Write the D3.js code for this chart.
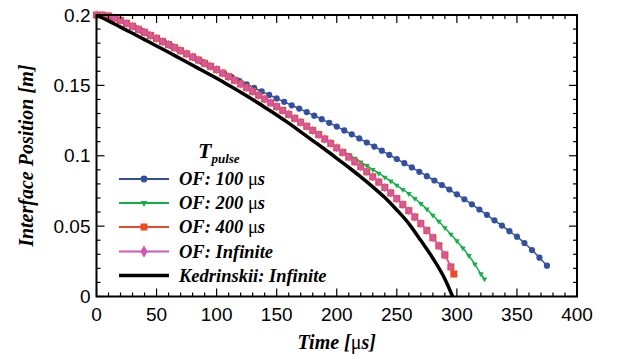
<!DOCTYPE html>
<html>
<head>
<meta charset="utf-8">
<script src="https://cdn.jsdelivr.net/npm/d3@7"></script>
<style>
  body { margin: 0; background: #fff; }
  .tick-label { font-family: "Liberation Sans", Arial, sans-serif; font-size: 19px; fill: #000; }
</style>
</head>
<body>
<div id="chart"></div>
<script>
// x ticks / y ticks
const xTicks = [0, 50, 100, 150, 200, 250, 300, 350, 400]
const yTicks = [0, 0.05, 0.1, 0.15, 0.2]
const yTickLabels = ["0", "0.05", "0.1", "0.15", "0.2"]

// legend labels
const seriesNames = ["OF: 100 ", "OF: 200 ", "OF: 400 ", "OF: Infinite", "Kedrinskii: Infinite"]

// OF: 100 us, every 6.25 us
const blueStep = 6.25
const blueVals = [0.2000, 0.1998, 0.1987, 0.1967, 0.1942, 0.1915, 0.1888, 0.1861, 0.1834, 0.1807,
  0.1779, 0.1752, 0.1724, 0.1696, 0.1668, 0.1640, 0.1612, 0.1585, 0.1559, 0.1533,
  0.1508, 0.1482, 0.1457, 0.1432, 0.1407, 0.1383, 0.1358, 0.1335, 0.1310, 0.1285,
  0.1260, 0.1234, 0.1207, 0.1180, 0.1152, 0.1123, 0.1094, 0.1065, 0.1036, 0.1006,
  0.0977, 0.0947, 0.0917, 0.0886, 0.0855, 0.0824, 0.0792, 0.0760, 0.0726, 0.0691,
  0.0655, 0.0618, 0.0580, 0.0541, 0.0504, 0.0464, 0.0425, 0.0380, 0.0330, 0.0276, 0.0219]

// OF: 200 us, every 5 us, last point at 323
const greenStep = 5
const greenVals = [0.2000, 0.1999, 0.1993, 0.1979, 0.1962, 0.1941, 0.1920, 0.1898, 0.1877, 0.1855,
  0.1834, 0.1812, 0.1790, 0.1768, 0.1746, 0.1724, 0.1702, 0.1680, 0.1657, 0.1635,
  0.1612, 0.1587, 0.1562, 0.1536, 0.1510, 0.1484, 0.1457, 0.1430, 0.1403, 0.1376,
  0.1349, 0.1322, 0.1294, 0.1266, 0.1238, 0.1209, 0.1180, 0.1150, 0.1119, 0.1088,
  0.1056, 0.1032, 0.1007, 0.0981, 0.0955, 0.0929, 0.0902, 0.0875, 0.0847, 0.0819,
  0.0790, 0.0760, 0.0730, 0.0696, 0.0660, 0.0620, 0.0577, 0.0533, 0.0488, 0.0442,
  0.0395, 0.0344, 0.0290, 0.0230, 0.0160]
const greenEnd = [323, 0.0124]

// OF: 400 us, every 5 us, last point at 297.5
const redStep = 5
const redVals = [0.2000, 0.1999, 0.1993, 0.1979, 0.1962, 0.1941, 0.1920, 0.1898, 0.1877, 0.1855,
  0.1834, 0.1812, 0.1790, 0.1768, 0.1746, 0.1724, 0.1702, 0.1680, 0.1657, 0.1635,
  0.1612, 0.1587, 0.1562, 0.1536, 0.1510, 0.1484, 0.1457, 0.1430, 0.1403, 0.1376,
  0.1349, 0.1322, 0.1294, 0.1266, 0.1238, 0.1209, 0.1180, 0.1150, 0.1119, 0.1088,
  0.1056, 0.1024, 0.0991, 0.0957, 0.0922, 0.0886, 0.0850, 0.0813, 0.0775, 0.0736,
  0.0695, 0.0653, 0.0610, 0.0565, 0.0518, 0.0469, 0.0418, 0.0360, 0.0295, 0.0210]
const redEnd = [297.5, 0.0160]

// OF: Infinite, every 5 us
const pinkStep = 5
const pinkVals = [0.2000, 0.1999, 0.1993, 0.1979, 0.1962, 0.1941, 0.1920, 0.1898, 0.1877, 0.1855,
  0.1834, 0.1812, 0.1790, 0.1768, 0.1746, 0.1724, 0.1702, 0.1680, 0.1657, 0.1635,
  0.1612, 0.1587, 0.1562, 0.1536, 0.1510, 0.1484, 0.1457, 0.1430, 0.1403, 0.1376,
  0.1349, 0.1322, 0.1294, 0.1266, 0.1238, 0.1209, 0.1180, 0.1150, 0.1119, 0.1088,
  0.1056, 0.1024, 0.0991, 0.0957, 0.0922, 0.0886, 0.0850, 0.0813, 0.0775, 0.0736,
  0.0695, 0.0653, 0.0610, 0.0565, 0.0518, 0.0469, 0.0418, 0.0360, 0.0295, 0.0207]

// Kedrinskii: Infinite
const kedTime = [0, 10, 20, 30, 40, 50, 60, 70, 80, 90, 100, 110, 120, 130, 140, 150, 160, 170, 180, 190,
  200, 210, 220, 230, 240, 250, 260, 270, 280, 290, 296.5]
const kedVals = [0.2000, 0.1958, 0.1914, 0.1870, 0.1825, 0.1780, 0.1735, 0.1689, 0.1643, 0.1597,
  0.1550, 0.1501, 0.1451, 0.1399, 0.1345, 0.1290, 0.1232, 0.1170, 0.1108, 0.1046,
  0.0982, 0.0917, 0.0850, 0.0779, 0.0703, 0.0615, 0.0518, 0.0397, 0.0272, 0.0125, 0]

const width = 617
const height = 359
const margins = { top: 15, bottom: 62.5, left: 96.5, right: 40 }
const serifFont = "'Liberation Serif', 'Times New Roman', 'DejaVu Serif', serif"

const toPts = (vals, step, end) => {
  const pts = vals.map((v, i) => [i * step, v])
  if (end) pts.push(end)
  return pts
}

const series = [
  { name: seriesNames[0], pts: toPts(blueVals, blueStep), color: "#3350a0", marker: "circle", mu: true },
  { name: seriesNames[1], pts: toPts(greenVals, greenStep, greenEnd), color: "#12b04a", marker: "tri", mu: true },
  { name: seriesNames[2], pts: toPts(redVals, redStep, redEnd), color: "#f04a22", marker: "square", mu: true },
  { name: seriesNames[3], pts: toPts(pinkVals, pinkStep), color: "#d058b0", marker: "diamond", mu: false },
]
const kedPts = kedTime.map((t, i) => [t, kedVals[i]])

const xScale = d3.scaleLinear()
  .domain([0, 400])
  .range([margins.left, width - margins.right])

const yScale = d3.scaleLinear()
  .domain([0, 0.2])
  .range([height - margins.bottom, margins.top])

const svg = d3.select("#chart")
  .append("svg")
  .attr("width", width)
  .attr("height", height)

const line = d3.line()
  .x(d => xScale(d[0]))
  .y(d => yScale(d[1]))
  .curve(d3.curveMonotoneX)

const symType = { circle: d3.symbolCircle, tri: d3.symbolTriangle, square: d3.symbolSquare, diamond: d3.symbolDiamond }
const plotSize = { circle: 30, tri: 14, square: 50, diamond: 26 }
const legSize = { circle: 36, tri: 20, square: 49, diamond: 44 }
const symbolRot = { circle: 0, tri: 180, square: 0, diamond: 0 }

// series lines + markers
series.forEach(s => {
  svg.append("path")
    .datum(s.pts)
    .attr("d", line)
    .attr("fill", "none")
    .attr("stroke", s.color)
    .attr("stroke-width", 1.5)

  svg.selectAll("path.m-" + s.marker)
    .data(s.pts)
    .join("path")
    .attr("class", "m-" + s.marker)
    .attr("d", d3.symbol().type(symType[s.marker]).size(plotSize[s.marker]))
    .attr("transform", d => `translate(${xScale(d[0])},${yScale(d[1])}) rotate(${symbolRot[s.marker]})`)
    .attr("fill", s.color)
})

svg.append("path")
  .datum(kedPts)
  .attr("d", line)
  .attr("fill", "none")
  .attr("stroke", "#000")
  .attr("stroke-width", 3.5)

// axes: ticks inward on all four sides
const x0 = xScale(0), x1 = xScale(400), y0 = yScale(0), y1 = yScale(0.2)

const xMinor = d3.range(0, 401, 10)
const yMinor = d3.range(0, 0.2001, 0.01)

const tickG = svg.append("g").attr("stroke", "#000").attr("stroke-width", 1.2)

xMinor.forEach(t => {
  const len = t % 50 === 0 ? 8 : 4
  tickG.append("line").attr("x1", xScale(t)).attr("x2", xScale(t)).attr("y1", y0).attr("y2", y0 - len)
  tickG.append("line").attr("x1", xScale(t)).attr("x2", xScale(t)).attr("y1", y1).attr("y2", y1 + len)
})
yMinor.forEach((v, i) => {
  const len = i % 5 === 0 ? 8 : 4
  tickG.append("line").attr("x1", x0).attr("x2", x0 + len).attr("y1", yScale(v)).attr("y2", yScale(v))
  tickG.append("line").attr("x1", x1).attr("x2", x1 - len).attr("y1", yScale(v)).attr("y2", yScale(v))
})

svg.append("rect")
  .attr("x", x0)
  .attr("y", y1)
  .attr("width", x1 - x0)
  .attr("height", y0 - y1)
  .attr("fill", "none")
  .attr("stroke", "#000")
  .attr("stroke-width", 2)

svg.selectAll("text.xtick")
  .data(xTicks)
  .join("text")
  .attr("class", "xtick tick-label")
  .attr("x", d => xScale(d))
  .attr("y", y0 + 24)
  .attr("text-anchor", "middle")
  .text(d => d)

svg.selectAll("text.ytick")
  .data(yTicks)
  .join("text")
  .attr("class", "ytick tick-label")
  .attr("x", x0 - 6)
  .attr("y", d => yScale(d))
  .attr("dy", "0.35em")
  .attr("text-anchor", "end")
  .text((d, i) => yTickLabels[i])

const serifText = sel => sel
  .style("font-family", serifFont)
  .style("font-weight", "bold")
  .style("font-style", "italic")
  .attr("fill", "#000")

// axis titles
const xt = svg.append("text")
  .call(serifText)
  .attr("x", (x0 + x1) / 2)
  .attr("y", 349)
  .attr("text-anchor", "middle")
  .style("font-size", "20px")
xt.append("tspan").text("Time [")
xt.append("tspan").text("\u03bc").style("font-style", "normal").style("font-weight", "normal")
xt.append("tspan").text("s]")

svg.append("text")
  .call(serifText)
  .attr("transform", `translate(33, ${(y0 + y1) / 2}) rotate(-90)`)
  .attr("text-anchor", "middle")
  .style("font-size", "20px")
  .text("Interface Position [m]")

// legend
const lg = svg.append("g")
const lt = lg.append("text")
  .call(serifText)
  .attr("x", 198)
  .attr("y", 158)
  .style("font-size", "22px")
lt.append("tspan").text("T")
lt.append("tspan").text("pulse").attr("dy", 5).style("font-size", "13px")

const rowY = [179, 203, 227, 251.5, 275.5]
const legX0 = 119, legX1 = 169, legMid = 144

series.forEach((s, i) => {
  lg.append("line")
    .attr("x1", legX0).attr("x2", legX1)
    .attr("y1", rowY[i]).attr("y2", rowY[i])
    .attr("stroke", s.color).attr("stroke-width", 2)
  lg.append("path")
    .attr("d", d3.symbol().type(symType[s.marker]).size(legSize[s.marker]))
    .attr("transform", `translate(${legMid},${rowY[i]}) rotate(${symbolRot[s.marker]})`)
    .attr("fill", s.color)
  const t = lg.append("text")
    .call(serifText)
    .attr("x", 179)
    .attr("y", rowY[i])
    .attr("dy", "0.33em")
    .style("font-size", "18.5px")
  t.append("tspan").text(s.name)
  if (s.mu) {
    t.append("tspan").text("\u03bc").style("font-style", "normal").style("font-weight", "normal")
    t.append("tspan").text("s")
  }
})

lg.append("line")
  .attr("x1", legX0).attr("x2", legX1)
  .attr("y1", rowY[4]).attr("y2", rowY[4])
  .attr("stroke", "#000").attr("stroke-width", 3.5)
lg.append("text")
  .call(serifText)
  .attr("x", 179)
  .attr("y", rowY[4])
  .attr("dy", "0.33em")
  .style("font-size", "18.5px")
  .text(seriesNames[4])
</script>
</body>
</html>
